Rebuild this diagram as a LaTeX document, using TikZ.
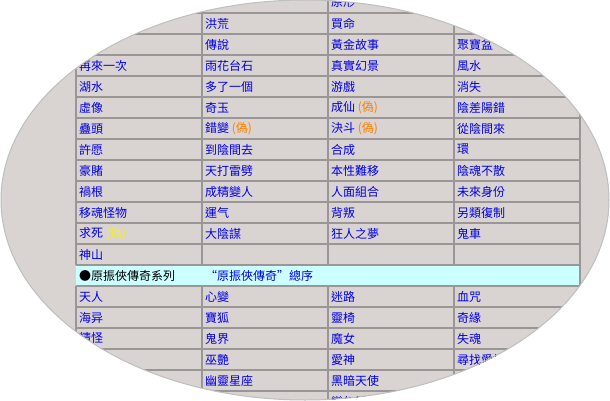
\documentclass[tikz,border=0pt]{standalone}
\usepackage{fontspec}
\newfontfamily\cjk{Noto Sans CJK TC}
\definecolor{bgtex}{HTML}{D9D3D1}
\definecolor{cyrow}{HTML}{CCFFFF}
\definecolor{gline}{HTML}{9A9696}
\begin{document}
\begin{tikzpicture}[x=1pt,y=-1pt,
  cell/.style={anchor=west,inner sep=0pt,font=\cjk\fontsize{12}{12}\selectfont,text=blue!90!black},
  gridline/.style={draw=gline,line width=1.6pt}]
\useasboundingbox (0,0) rectangle (610,401);
\fill[white] (0,0) rectangle (610,401);
\begin{scope}
\clip (305,200) ellipse (304 and 200);
\fill[bgtex] (0,0) rectangle (610,401);
\fill[cyrow] (76,265) rectangle (580,286);
\foreach \y in {-8,13,34,55,76,97,118,139,160,181,202,223,244,265,286,307,328,349,370,391,412}
  \draw[gridline] (76,\y) -- (580,\y);
\foreach \x in {76,202,328,454}
  {\draw[gridline] (\x,-8) -- (\x,265); \draw[gridline] (\x,286) -- (\x,412);}
\draw[gridline] (580,-8) -- (580,412);
\newcommand\rowtxt[5]{%
  \node[cell] at (79,#1+10.5) {#2};
  \node[cell] at (205,#1+10.5) {#3};
  \node[cell] at (331,#1+10.5) {#4};
  \node[cell] at (457,#1+10.5) {#5};}
\rowtxt{-8}{}{}{原形}{}
\rowtxt{13}{}{洪荒}{買命}{}
\rowtxt{34}{}{傳說}{黃金故事}{聚寶盆}
\rowtxt{55}{再來一次}{雨花台石}{真實幻景}{風水}
\rowtxt{76}{湖水}{多了一個}{游戲}{消失}
\rowtxt{97}{虛像}{奇玉}{成仙 {\color{orange}(偽)}}{陰差陽錯}
\rowtxt{118}{蠱頭}{錯變 {\color{orange}(偽)}}{決斗 {\color{orange}(偽)}}{從陰間來}
\rowtxt{139}{許愿}{到陰間去}{合成}{環}
\rowtxt{160}{豪賭}{天打雷劈}{本性難移}{陰魂不散}
\rowtxt{181}{禍根}{成精變人}{人面組合}{未來身份}
\rowtxt{202}{移魂怪物}{運气}{背叛}{另類復制}
\rowtxt{223}{求死 {\color{yellow}(偽)}}{大陰謀}{狂人之夢}{鬼車}
\rowtxt{244}{神山}{}{}{}
\node[cell,text=black] (s1) at (79,275.5) {●原振俠傳奇系列};
\node[cell] (s2) at (205,275.5) {“原振俠傳奇”總序};
\rowtxt{286}{天人}{心變}{迷路}{血咒}
\rowtxt{307}{海异}{寶狐}{靈椅}{奇緣}
\rowtxt{328}{精怪}{鬼界}{魔女}{失魂}
\rowtxt{349}{}{巫艷}{愛神}{尋找愛神}
\rowtxt{370}{}{幽靈星座}{黑暗天使}{}
\rowtxt{391}{}{}{變幻雙星}{}
\end{scope}
\draw[gray!50,line width=1pt] (305,200) ellipse (304 and 200);
\end{tikzpicture}
\end{document}
